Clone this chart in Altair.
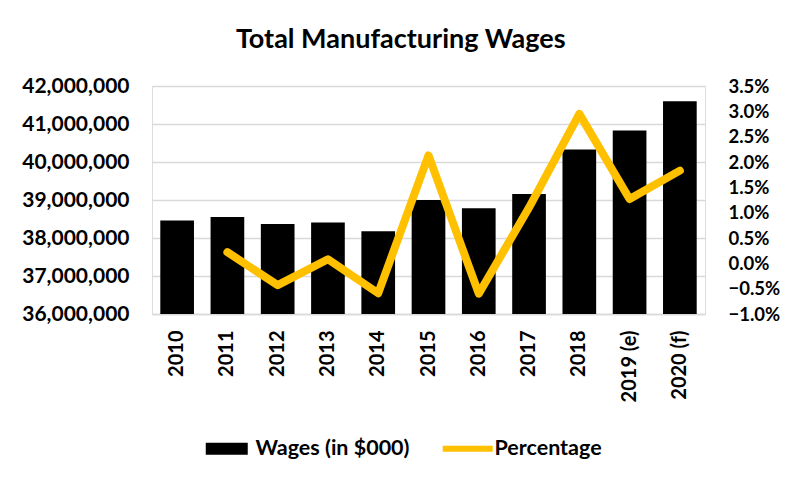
import altair as alt
import pandas as pd

years = ["2010", "2011", "2012", "2013", "2014", "2015", "2016", "2017", "2018", "2019 (e)", "2020 (f)"]
wages = [38460000, 38550000, 38370000, 38410000, 38180000, 39000000, 38780000, 39160000, 40330000, 40830000, 41600000]
pct = [None, 0.0022, -0.0043, 0.0008, -0.0059, 0.0213, -0.0060, 0.0110, 0.0295, 0.0127, 0.0183]

df = pd.DataFrame({"year": years, "wages": wages, "pct": pct})
df["s_bar"] = "Wages (in $000)"
df["s_line"] = "Percentage"

FONT = "Lato"
W, H = 553, 228

x = alt.X("year:N", sort=years, title=None,
          scale=alt.Scale(paddingInner=0.33, paddingOuter=0.165),
          axis=alt.Axis(labelAngle=-90, labelFontSize=20, labelFont=FONT, labelFontWeight="bold",
                        labelColor="#000000", ticks=False, domainColor="#d9d9d9", domainWidth=1.5,
                        labelPadding=16, labelBaseline="middle"))

bars = alt.Chart(df).mark_bar(color="black", clip=True).encode(
    x=x,
    y=alt.Y("wages:Q", title=None,
            scale=alt.Scale(domain=[36000000, 42000000], nice=False, zero=False),
            axis=alt.Axis(values=[36000000, 37000000, 38000000, 39000000, 40000000, 41000000, 42000000],
                          format=",d", labelFontSize=21, labelFont=FONT, labelFontWeight="bold",
                          labelColor="#000000", ticks=False, domain=False, grid=True,
                          gridColor="#d9d9d9", gridWidth=1.5, labelPadding=23)),
    color=alt.Color("s_bar:N", scale=alt.Scale(domain=["Wages (in $000)"], range=["black"]),
                    legend=alt.Legend(title=None, orient="none", legendX=64, legendY=352,
                                      symbolType="M-2.1,-0.6H2.1V0.6H-2.1Z", symbolSize=400,
                                      symbolFillColor="black", symbolStrokeWidth=0,
                                      labelFontSize=21.5, labelFont=FONT, labelFontWeight="bold",
                                      labelColor="#000000", padding=0, labelOffset=18)),
)

line = alt.Chart(df).mark_line(strokeWidth=8, color="#FFC000", strokeJoin="round",
                               strokeCap="round").encode(
    x=x,
    y=alt.Y("pct:Q", title=None,
            scale=alt.Scale(domain=[-0.01, 0.035], nice=False, zero=False),
            axis=alt.Axis(orient="right",
                          values=[-0.01, -0.005, 0, 0.005, 0.01, 0.015, 0.02, 0.025, 0.03, 0.035],
                          format=".1%", labelFontSize=18.5, labelFont=FONT, labelFontWeight="bold",
                          labelColor="#000000", ticks=False, domain=False, grid=False,
                          labelPadding=23)),
    color=alt.Color("s_line:N", scale=alt.Scale(domain=["Percentage"], range=["#FFC000"]),
                    legend=alt.Legend(title=None, orient="none", legendX=305, legendY=352,
                                      symbolType="M-2.5,-0.3H2.5V0.3H-2.5Z", symbolSize=400,
                                      symbolFillColor="#FFC000", symbolStrokeWidth=0,
                                      labelFontSize=21.5, labelFont=FONT, labelFontWeight="bold",
                                      labelColor="#000000", padding=0, labelOffset=16)),
)

chart = alt.layer(bars, line).resolve_scale(
    y="independent", color="independent"
).resolve_legend(color="independent").properties(
    width=W, height=H,
    autosize=alt.AutoSizeParams(type="none"),
    padding={"left": 144, "top": 78, "right": 76, "bottom": 155},
    title=alt.Title("Total Manufacturing Wages", font=FONT, fontSize=27, fontWeight="bold",
                    color="#000000", anchor="middle", frame="bounds", offset=21),
).configure_view(stroke=None).configure(background="white")

chart.save("out.html", embed_options={"renderer": "svg", "actions": False})
